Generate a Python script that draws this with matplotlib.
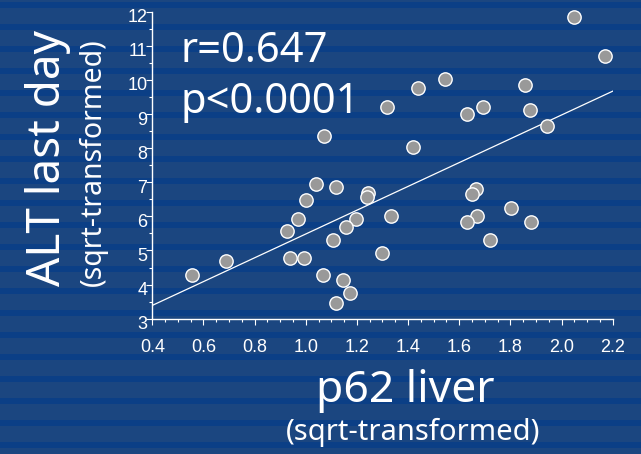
import matplotlib
matplotlib.use("Agg")
import matplotlib.pyplot as plt
import matplotlib.transforms as mtransforms
from matplotlib.ticker import MultipleLocator, FixedLocator

# ---- data ----
p62_liver = [2.050, 2.170, 1.544, 1.437, 1.319, 1.857, 1.631, 1.694, 1.875, 1.944,
             1.071, 1.419, 1.039, 1.118, 1.001, 1.244, 1.238, 0.970, 1.195, 1.332,
             0.925, 1.157, 1.105, 1.299, 0.938, 0.993, 0.688, 0.556, 1.069, 1.144,
             1.173, 1.118, 1.664, 1.651, 1.669, 1.631, 1.801, 1.882, 1.720]
alt_last_day = [11.83, 10.70, 10.04, 9.77, 9.21, 9.86, 9.01, 9.20, 9.11, 8.64,
                8.36, 8.03, 6.95, 6.85, 6.48, 6.68, 6.56, 5.91, 5.91, 6.01,
                5.58, 5.68, 5.31, 4.94, 4.79, 4.79, 4.70, 4.27, 4.27, 4.13,
                3.76, 3.47, 6.80, 6.67, 6.01, 5.83, 6.25, 5.83, 5.31]
fit_x = [0.4, 2.2]
fit_y = [3.39, 9.67]
x_ticks = [0.4, 0.6, 0.8, 1.0, 1.2, 1.4, 1.6, 1.8, 2.0, 2.2]
x_tick_labels = ["0.4", "0.6", "0.8", "1.0", "1.2", "1.4", "1.6", "1.8", "2.0", "2.2"]
y_ticks = [3, 4, 5, 6, 7, 8, 9, 10, 11, 12]
y_tick_labels = ["3", "4", "5", "6", "7", "8", "9", "10", "11", "12"]
r_text = "r=0.647"
p_text = "p<0.0001"
x_label = "p62 liver"
x_sublabel = "(sqrt-transformed)"
y_label = "ALT last day"
y_sublabel = "(sqrt-transformed)"

W, H = 641, 454
LIGHT = "#1b4680"
DARK = "#0b3f86"
MARKER = "#999999"

fig = plt.figure(figsize=(W / 100, H / 100), dpi=100)
fig.patch.set_facecolor(LIGHT)

# striped background
bg = fig.add_axes([0, 0, 1, 1], zorder=-10)
bg.set_xlim(0, W)
bg.set_ylim(H, 0)
bg.axis("off")
y0 = 2
while y0 < H:
    bg.axhspan(y0, y0 + 6, color=DARK, lw=0)
    y0 += 22

ax = fig.add_axes([152.3 / W, 1 - 318.7 / H, (612.7 - 152.3) / W, (318.7 - 11.7) / H])
ax.set_facecolor("none")
ax.set_xlim(0.4, 2.2)
ax.set_ylim(3, 12)
for s in ["top", "right"]:
    ax.spines[s].set_visible(False)
for s in ["left", "bottom"]:
    ax.spines[s].set_color("white")
    ax.spines[s].set_linewidth(1.0)

ax.xaxis.set_major_locator(FixedLocator(x_ticks))
ax.set_xticklabels(x_tick_labels)
ax.xaxis.set_minor_locator(MultipleLocator(0.05))
ax.yaxis.set_major_locator(FixedLocator(y_ticks))
ax.set_yticklabels(y_tick_labels)
ax.yaxis.set_minor_locator(MultipleLocator(0.5))
ax.tick_params(which="major", colors="white", length=4.5, width=0.8,
               labelsize=13, direction="out")
ax.tick_params(which="minor", colors="white", length=2.5, width=0.8, direction="out")
ax.tick_params(axis="x", which="major", pad=10)
ax.tick_params(axis="y", which="major", pad=-1)
down = mtransforms.ScaledTranslation(0, -4 / 100, fig.dpi_scale_trans)
for lab in ax.get_xticklabels() + ax.get_yticklabels():
    lab.set_family("Liberation Sans")
    lab.set_color("white")
for lab in ax.get_yticklabels():
    lab.set_transform(lab.get_transform() + down)

ax.plot(fit_x, fit_y, color="white", lw=0.9, zorder=2)
ax.scatter(p62_liver, alt_last_day, s=92, c=MARKER, edgecolors="white",
           linewidths=1.0, zorder=3, clip_on=False)

fig.text(180 / W, 1 - 62 / H, r_text, fontsize=30, family="Noto Sans",
         color="white", ha="left", va="baseline")
fig.text(180 / W, 1 - 113 / H, p_text, fontsize=30, family="Noto Sans",
         color="white", ha="left", va="baseline")

fig.text(405.5 / W, 1 - 402 / H, x_label, fontsize=32, family="Noto Sans",
         color="white", ha="center", va="baseline")
fig.text(413.5 / W, 1 - 440 / H, x_sublabel, fontsize=21, family="Noto Sans",
         color="white", ha="center", va="baseline")

fig.text(60 / W, 1 - 157.5 / H, y_label, fontsize=33, family="Noto Sans",
         color="white", ha="center", va="baseline", rotation=90,
         rotation_mode="anchor")
fig.text(101 / W, 1 - 162 / H, y_sublabel, fontsize=20.5, family="Noto Sans",
         color="white", ha="center", va="baseline", rotation=90,
         rotation_mode="anchor")

fig.savefig("out.png", dpi=100, facecolor=fig.get_facecolor())
